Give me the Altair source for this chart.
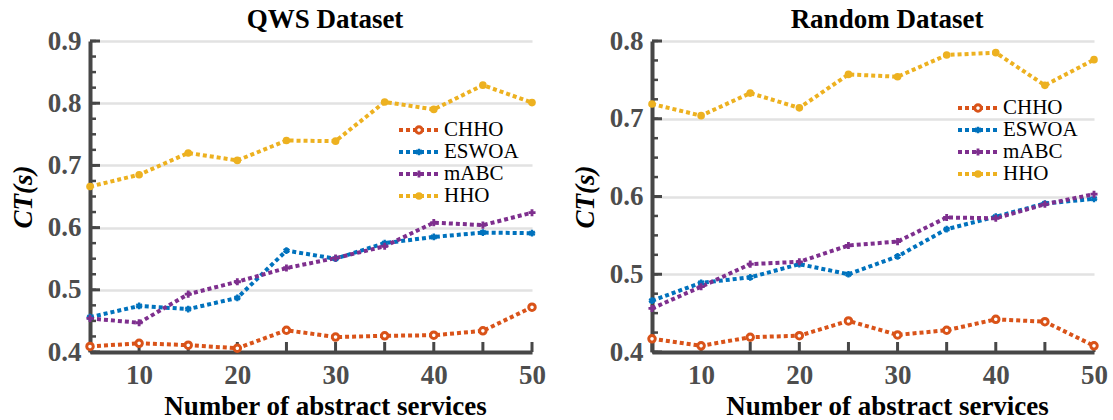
import altair as alt
import pandas as pd
import numpy as np

# ---- data ----
x_vals = [5, 10, 15, 20, 25, 30, 35, 40, 45, 50]
series_names = ["CHHO", "ESWOA", "mABC", "HHO"]

qws_chho = [0.409, 0.414, 0.411, 0.406, 0.435, 0.424, 0.426, 0.427, 0.434, 0.472]
qws_eswoa = [0.456, 0.474, 0.469, 0.487, 0.563, 0.550, 0.575, 0.585, 0.592, 0.591]
qws_mabc = [0.454, 0.447, 0.493, 0.513, 0.535, 0.551, 0.570, 0.608, 0.604, 0.624]
qws_hho = [0.666, 0.685, 0.720, 0.708, 0.740, 0.739, 0.802, 0.790, 0.829, 0.801]

rnd_chho = [0.417, 0.408, 0.419, 0.421, 0.440, 0.422, 0.428, 0.442, 0.439, 0.408]
rnd_eswoa = [0.466, 0.489, 0.496, 0.513, 0.500, 0.523, 0.558, 0.574, 0.591, 0.597]
rnd_mabc = [0.456, 0.484, 0.513, 0.516, 0.537, 0.542, 0.573, 0.572, 0.590, 0.603]
rnd_hho = [0.719, 0.704, 0.733, 0.714, 0.757, 0.754, 0.782, 0.785, 0.743, 0.776]

x_label_values = [10, 20, 30, 40, 50]

# ---- styling ----
colors = ["#D95319", "#0072BD", "#7E2F8E", "#EDB120"]
FONT = "Liberation Serif"
AX = "#474747"
LBL = "#4d4d4d"
W, H = 442, 311
DASH = [4, 3]
LW = 4
ASTERISK = "M0,-1L0,1M-0.87,-0.5L0.87,0.5M-0.87,0.5L0.87,-0.5"

color_scale = alt.Scale(domain=series_names, range=colors)


def long_df(values):
    rows = []
    for name, vals in zip(series_names, values):
        for x, v in zip(x_vals, vals):
            rows.append({"n": x, "ct": v, "series": name})
    return pd.DataFrame(rows)


def point_mark(name):
    c = colors[series_names.index(name)]
    if name == "CHHO":
        return dict(shape="circle", filled=False, fill="white", fillOpacity=1,
                    stroke=c, strokeWidth=3, size=42, opacity=1)
    if name == "ESWOA":
        return dict(shape=ASTERISK, filled=False, stroke=c, strokeWidth=2.4,
                    size=45, opacity=1)
    if name == "mABC":
        return dict(shape="cross", filled=True, color=c, size=50, opacity=1)
    return dict(shape="circle", filled=True, color=c, size=58, opacity=1)


def panel(values, title, ymax, leg_x0, leg_y0):
    df = long_df(values)
    xs = alt.Scale(domain=[5, 50], nice=False, zero=False)
    ys = alt.Scale(domain=[0.4, ymax], nice=False, zero=False)
    major = [round(v, 2) for v in np.arange(0.4, ymax + 1e-9, 0.1)]
    minor = [round(v, 3) for v in np.arange(0.4, ymax + 1e-9, 0.025)]

    x_enc = alt.X(
        "n:Q", scale=xs,
        axis=alt.Axis(values=x_label_values, format="d", grid=False,
                      title="Number of abstract services",
                      titleX=W / 2 + 14, titleY=62, titleBaseline="alphabetic",
                      titleAlign="center", labelPadding=10, labelFlush=False),
    )
    y_enc = alt.Y(
        "ct:Q", scale=ys,
        axis=alt.Axis(values=major, format=".1f", grid=True, title="CT(s)",
                      titleX=-67, titleY=H / 2, titleAlign="center",
                      titleBaseline="middle", titleFontStyle="italic",
                      labelPadding=9, labelFlush=False),
    )

    layers = []
    # inward ticks
    layers.append(alt.Chart(pd.DataFrame({"ct": minor})).mark_rule(color=AX, strokeWidth=2.5)
                  .encode(y=alt.Y("ct:Q", scale=ys), x=alt.value(0), x2=alt.value(6)))
    layers.append(alt.Chart(pd.DataFrame({"ct": major})).mark_rule(color=AX, strokeWidth=3)
                  .encode(y=alt.Y("ct:Q", scale=ys), x=alt.value(0), x2=alt.value(10)))
    layers.append(alt.Chart(pd.DataFrame({"n": x_vals})).mark_rule(color=AX, strokeWidth=3)
                  .encode(x=alt.X("n:Q", scale=xs), y=alt.value(H), y2=alt.value(H - 10)))

    lines = alt.Chart(df).mark_line(strokeDash=DASH, strokeWidth=LW, strokeCap="butt").encode(
        x=x_enc, y=y_enc,
        color=alt.Color("series:N", scale=color_scale, legend=None),
        order=alt.Order("n:Q"),
    )
    layers.insert(0, lines)

    for name in series_names:
        layers.append(alt.Chart(df).transform_filter(alt.datum.series == name)
                      .mark_point(**point_mark(name))
                      .encode(x=alt.X("n:Q", scale=xs), y=alt.Y("ct:Q", scale=ys)))

    # legend (drawn inside the plot)
    for i, name in enumerate(series_names):
        ly = leg_y0 + i * 22
        c = colors[i]
        d = pd.DataFrame({"series": [name]})
        layers.append(alt.Chart(d).mark_rule(strokeDash=DASH, strokeWidth=LW, color=c)
                      .encode(x=alt.value(leg_x0), x2=alt.value(leg_x0 + 39), y=alt.value(ly)))
        layers.append(alt.Chart(d).mark_point(**point_mark(name))
                      .encode(x=alt.value(leg_x0 + 20), y=alt.value(ly)))
        layers.append(alt.Chart(d).mark_text(align="left", baseline="middle", font=FONT,
                                             fontSize=21, color="black")
                      .encode(x=alt.value(leg_x0 + 45), y=alt.value(ly), text="series:N"))

    return alt.layer(*layers).properties(
        width=W, height=H,
        title=alt.TitleParams(title, dx=14, frame="group"),
    )


left = panel([qws_chho, qws_eswoa, qws_mabc, qws_hho], "QWS Dataset", 0.9, 309, 89)
right = panel([rnd_chho, rnd_eswoa, rnd_mabc, rnd_hho], "Random Dataset", 0.8, 306, 67)

chart = alt.hconcat(left, right, spacing=120, bounds="flush").properties(
    padding={"left": 9, "top": 6, "right": 0, "bottom": 0}
).configure_view(stroke=None).configure_axis(
    domainColor=AX, domainWidth=4, ticks=False, tickSize=0,
    labelFont=FONT, labelFontSize=27, labelFontWeight="bold", labelColor=LBL,
    titleFont=FONT, titleFontSize=27, titleFontWeight="bold", titleColor="black",
    gridColor="#e2e2e2", gridWidth=2.5,
).configure_title(
    font=FONT, fontSize=27, fontWeight="bold", color="black",
    baseline="alphabetic", offset=-7, anchor="middle",
)

chart.save("out.html", embed_options={"renderer": "svg", "actions": False})
